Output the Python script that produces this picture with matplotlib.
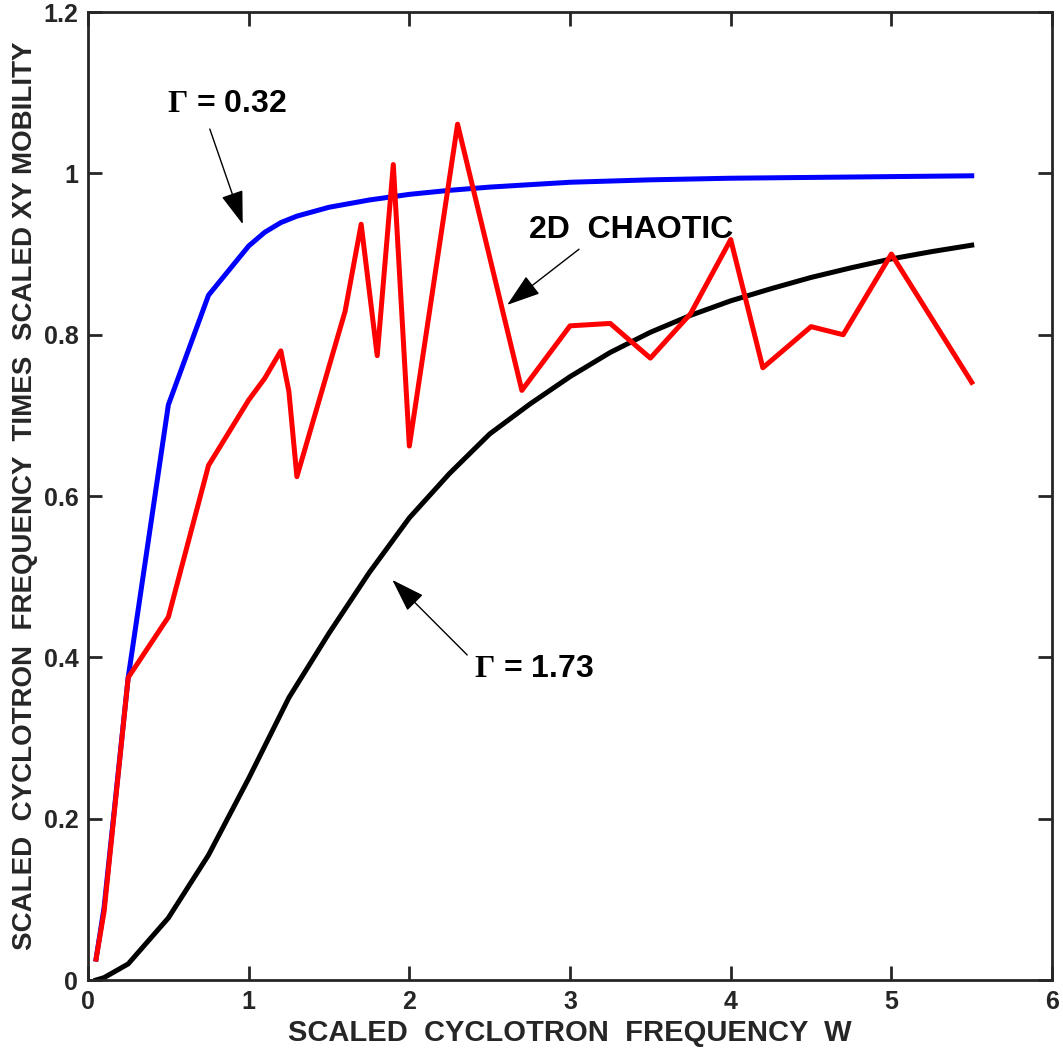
import matplotlib
matplotlib.use("Agg")
import matplotlib.pyplot as plt

plt.rcParams['font.family'] = ['Liberation Sans', 'DejaVu Sans']
plt.rcParams['mathtext.fontset'] = 'custom'
plt.rcParams['mathtext.bf'] = 'Liberation Serif:bold'
plt.rcParams['mathtext.rm'] = 'Liberation Serif'

# gamma = 0.32 curve
w_blue = [0.05, 0.1, 0.25, 0.5, 0.75, 1.0, 1.1, 1.2, 1.3, 1.5, 1.75, 2.0, 2.25, 2.5,
          3.0, 3.5, 4.0, 4.5, 5.0, 5.5]
mu_blue = [0.026, 0.09, 0.375, 0.713, 0.849, 0.910, 0.927, 0.939, 0.947, 0.958, 0.967,
           0.974, 0.979, 0.983, 0.989, 0.992, 0.994, 0.995, 0.996, 0.997]

# gamma = 1.73 curve
w_black = [0.05, 0.1, 0.25, 0.5, 0.75, 1.0, 1.25, 1.5, 1.75, 2.0, 2.25, 2.5, 2.75, 3.0,
           3.25, 3.5, 3.75, 4.0, 4.25, 4.5, 4.75, 5.0, 5.25, 5.5]
mu_black = [0.0, 0.003, 0.02, 0.077, 0.155, 0.25, 0.35, 0.43, 0.505, 0.573, 0.628, 0.677,
            0.714, 0.748, 0.778, 0.803, 0.824, 0.842, 0.857, 0.871, 0.883, 0.894, 0.903, 0.911]

# 2D chaotic
w_red = [0.05, 0.1, 0.25, 0.5, 0.75, 1.0, 1.1, 1.2, 1.25, 1.3, 1.6, 1.7, 1.8, 1.9, 2.0,
         2.3, 2.7, 3.0, 3.25, 3.5, 3.75, 4.0, 4.2, 4.5, 4.7, 5.0, 5.5]
mu_red = [0.026, 0.085, 0.375, 0.45, 0.638, 0.719, 0.746, 0.780, 0.73, 0.624, 0.829, 0.937,
          0.774, 1.011, 0.662, 1.061, 0.731, 0.811, 0.814, 0.771, 0.826, 0.918, 0.759,
          0.81, 0.80, 0.90, 0.741]

xticks = [0, 1, 2, 3, 4, 5, 6]
yticks = [0, 0.2, 0.4, 0.6, 0.8, 1, 1.2]
yticklabels = ['0', '0.2', '0.4', '0.6', '0.8', '1', '1.2']

fig = plt.figure(figsize=(10.63, 10.57), dpi=100)
ax = fig.add_axes([0.0828, 0.0728, 0.9069, 0.9158])

ax.plot(w_black, mu_black, color='black', lw=3.6)
ax.plot(w_blue, mu_blue, color='blue', lw=3.6)
ax.plot(w_red, mu_red, color='red', lw=3.6)

ax.set_xlim(0, 6)
ax.set_ylim(0, 1.2)
ax.set_xticks(xticks)
ax.set_xticklabels([str(t) for t in xticks], fontsize=18, fontweight='bold')
ax.set_yticks(yticks)
ax.set_yticklabels(yticklabels, fontsize=18, fontweight='bold')
ax.tick_params(direction='in', length=10, width=2, color='#262626', labelcolor='#262626',
               top=True, right=True, pad=7)
for s in ax.spines.values():
    s.set_linewidth(2)
    s.set_color('#262626')

ax.set_xlabel('SCALED  CYCLOTRON  FREQUENCY  W', labelpad=4, fontsize=21,
              fontweight='bold', color='#262626')
ax.set_ylabel('SCALED  CYCLOTRON  FREQUENCY  TIMES  SCALED XY MOBILITY', labelpad=4,
              fontsize=20, fontweight='bold', color='#262626')

txt = dict(fontsize=23, fontweight='bold', va='center', ha='left')
arr = dict(arrowstyle='-|>,head_length=0.75,head_width=0.25', color='black', lw=1,
           shrinkA=0, shrinkB=0, mutation_scale=28)

ax.text(0.49, 1.086, r'$\mathbf{\Gamma}$ = 0.32', **txt)
ax.annotate('', xy=(0.963, 0.937), xytext=(0.758, 1.055), arrowprops=arr)

ax.text(2.745, 0.93, '2D  CHAOTIC', **txt)
ax.annotate('', xy=(2.609, 0.837), xytext=(3.056, 0.906), arrowprops=arr)

ax.text(2.40, 0.385, r'$\mathbf{\Gamma}$ = 1.73', **txt)
ax.annotate('', xy=(1.894, 0.496), xytext=(2.36, 0.403), arrowprops=arr)

fig.savefig('out.png', dpi=100)
